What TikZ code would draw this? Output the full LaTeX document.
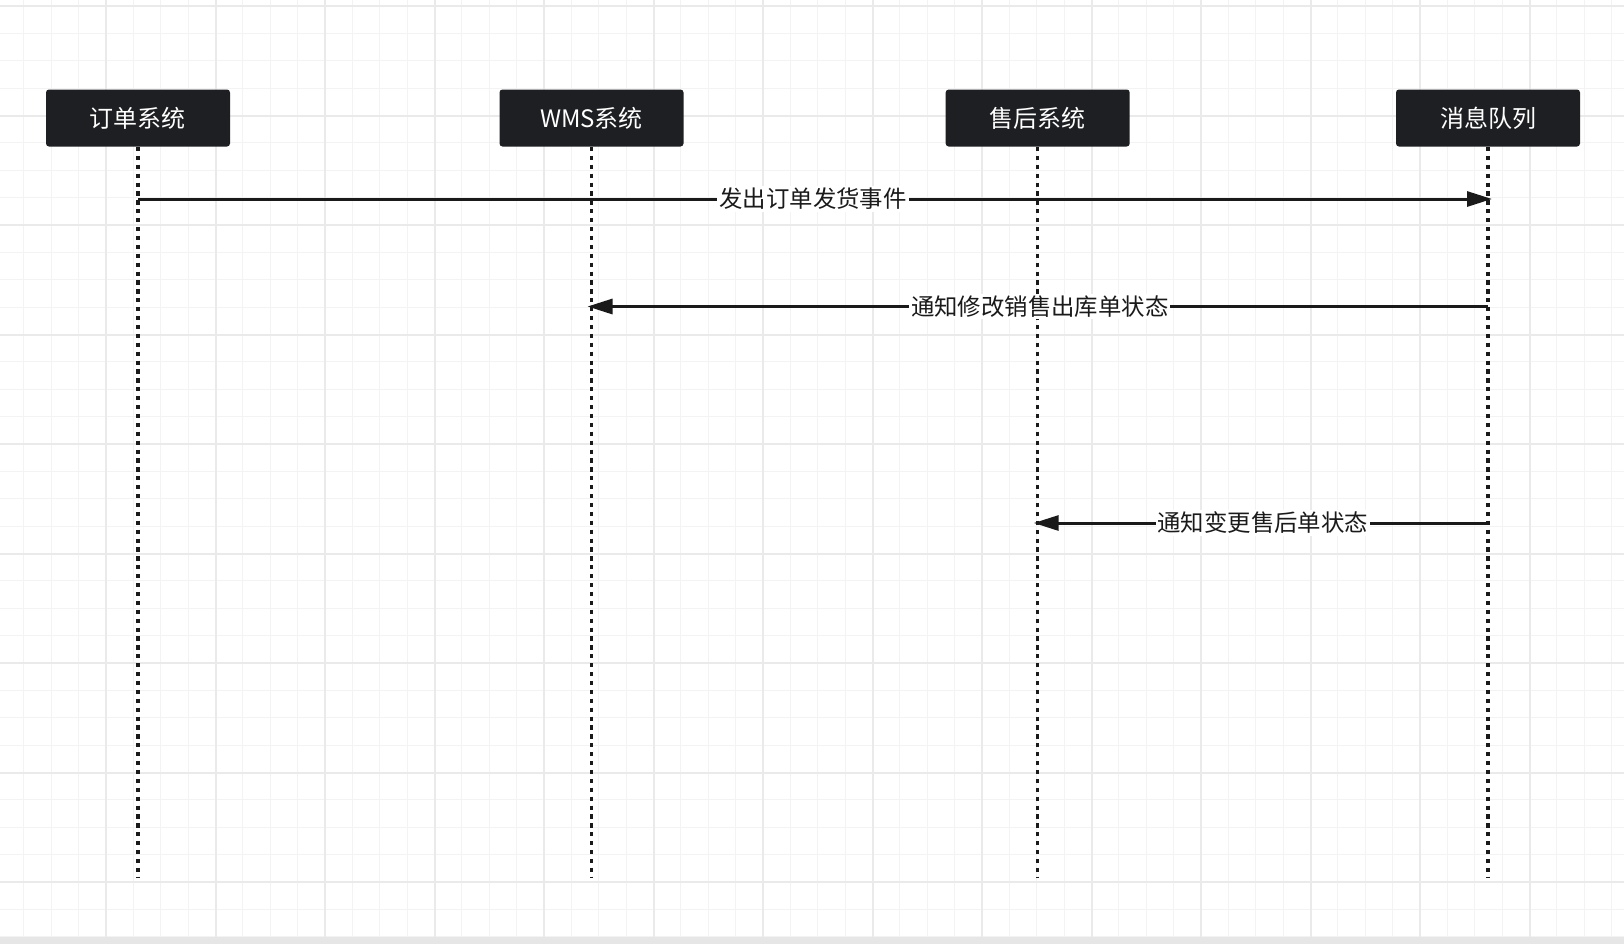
\documentclass[tikz,border=0pt]{standalone}
\usepackage{fontspec}
\setmainfont{Noto Sans CJK SC}
\usetikzlibrary{arrows.meta}
\definecolor{boxfill}{HTML}{1E1F22}
\definecolor{ink}{HTML}{1A1A1A}
\definecolor{gridminor}{HTML}{F3F3F3}
\definecolor{gridmajor}{HTML}{EAEAEA}
\definecolor{strip}{HTML}{E6E6E6}
\tikzset{
  actor/.style={draw=none, fill=boxfill, rounded corners=1.5pt, minimum width=92pt, minimum height=28.5pt,
    text=white, font=\fontsize{12}{14}\selectfont, inner sep=0pt},
  lifeline/.style={draw=ink, line width=1.7pt, dash pattern=on 2.1pt off 2.35pt},
  msg/.style={draw=ink, line width=1.5pt, -{Triangle[length=12.5pt,width=7.5pt]}, shorten >=-2pt},
  msglabel/.style={fill=white, text=ink, font=\fontsize{11.7}{14}\selectfont, inner sep=1pt},
  minorline/.style={draw=gridminor, line width=0.6pt},
  majorline/.style={draw=gridmajor, line width=1pt}
}
\begin{document}
\begin{tikzpicture}[x=0.5pt,y=-0.5pt]
\useasboundingbox (0,0) rectangle (1624,944);
\fill[white] (0,0) rectangle (1624,944);
% grid
\foreach \i in {0,...,60} {
  \draw[minorline] ({-3.5+27.375*\i},0) -- ({-3.5+27.375*\i},944);
}
\foreach \i in {0,...,35} {
  \draw[minorline] (0,{6+27.375*\i}) -- (1624,{6+27.375*\i});
}
\foreach \i in {0,...,15} {
  \draw[majorline] ({-3.5+109.5*\i},0) -- ({-3.5+109.5*\i},944);
}
\foreach \i in {0,...,8} {
  \draw[majorline] (0,{6+109.5*\i}) -- (1624,{6+109.5*\i});
}
\fill[strip] (0,937) rectangle (1624,944);
% actors
\node[actor] (a1) at (138,118) {订单系统};
\node[actor] (a2) at (591.5,118) {WMS系统};
\node[actor] (a3) at (1037.7,118) {售后系统};
\node[actor] (a4) at (1488,118) {消息队列};
% lifeline ends
\coordinate (e1) at (138,878);
\coordinate (e2) at (591.5,878);
\coordinate (e3) at (1037.7,878);
\coordinate (e4) at (1488,878);
\draw[lifeline] (a1.south) -- (e1);
\draw[lifeline] (a2.south) -- (e2);
\draw[lifeline] (a3.south) -- (e3);
\draw[lifeline] (a4.south) -- (e4);
% message points
\coordinate (m1s) at (138,199);
\coordinate (m1e) at (1488,199);
\coordinate (m2s) at (1488,306.5);
\coordinate (m2e) at (591.5,306.5);
\coordinate (m3s) at (1488,523);
\coordinate (m3e) at (1037.7,523);
\draw[msg] (m1s) -- node[msglabel] {发出订单发货事件} (m1e);
\draw[msg] (m2s) -- node[msglabel] {通知修改销售出库单状态} (m2e);
\draw[msg] (m3s) -- node[msglabel] {通知变更售后单状态} (m3e);
\end{tikzpicture}
\end{document}
